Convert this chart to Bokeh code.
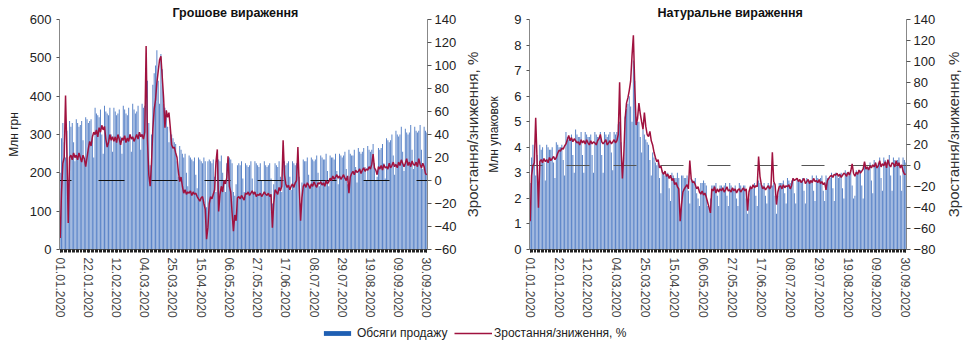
import math
from bokeh.plotting import figure
from bokeh.models import Range1d, LinearAxis, FixedTicker, Legend, LegendItem
from bokeh.layouts import row, column
from bokeh.embed import file_html
from bokeh.resources import INLINE

# ---------------- data (daily, 01.01.2020 - 30.09.2020) ----------------
tick_labels = ["01.01.2020", "22.01.2020", "12.02.2020", "04.03.2020", "25.03.2020",
               "15.04.2020", "06.05.2020", "27.05.2020", "17.06.2020", "08.07.2020",
               "29.07.2020", "19.08.2020", "09.09.2020", "30.09.2020"]

# sales in money, mln UAH
sales_uah = [
    200, 290, 330, 280, 240,
    310, 180, 335, 320, 330, 280, 230,
    340, 330, 320, 325, 335, 285, 235,
    345, 340, 330, 335, 340, 290, 240,
    370, 355, 350, 345, 365, 300, 250,
    375, 360, 355, 350, 370, 300, 255,
    370, 360, 350, 355, 365, 295, 250,
    375, 365, 355, 350, 370, 300, 255,
    380, 365, 355, 360, 375, 305, 260,
    380, 370, 375, 410, 440, 330, 220,
    300, 430, 460, 480, 520, 440, 380,
    510, 470, 380, 370, 360, 320, 280,
    320, 300, 290, 280, 275, 230, 190,
    270, 260, 250, 240, 250, 200, 165,
    245, 240, 235, 230, 240, 195, 160,
    240, 235, 230, 225, 240, 230, 110,
    230, 235, 230, 225, 235, 190, 150,
    240, 235, 230, 245, 200, 180, 150,
    225, 230, 240, 235, 225, 150, 140,
    170, 220, 225, 220, 230, 185, 150,
    225, 220, 215, 220, 230, 185, 150,
    230, 225, 220, 215, 225, 180, 145,
    230, 220, 215, 220, 225, 185, 120,
    170, 225, 220, 215, 230, 190, 150,
    240, 230, 220, 225, 230, 190, 155,
    230, 225, 220, 225, 235, 190, 120,
    175, 235, 230, 230, 240, 195, 160,
    240, 235, 230, 235, 245, 200, 165,
    245, 240, 235, 235, 250, 205, 165,
    245, 240, 240, 235, 250, 205, 170,
    250, 245, 240, 245, 255, 210, 170,
    260, 250, 245, 245, 260, 215, 175,
    265, 255, 250, 255, 265, 215, 180,
    270, 260, 255, 260, 275, 225, 180,
    190, 265, 260, 265, 275, 225, 185,
    290, 285, 280, 285, 300, 245, 195,
    310, 300, 295, 300, 320, 255, 205,
    315, 305, 300, 305, 325, 260, 210,
    320, 310, 305, 310, 325, 260, 210,
    320, 310, 305,
]

# growth vs. last year, money, %
growth_uah = [
    -50, -10, 15, 20, 74,
    25, -37, 20, 22, 18, 24, 20,
    22, 18, 24, 20, 16, 22, 19,
    12, 20, 28, 34, 30, 38, 42,
    40, 44, 38, 46, 42, 48, 44,
    47, 36, 29, 33, 40, 35, 38,
    34, 38, 33, 40, 36, 31, 37,
    35, 39, 33, 37, 34, 40, 36,
    38, 34, 37, 40, 36, 42, 38,
    40, 36, 42, 117, 35, 5, -5,
    15, 45, 62, 70, 85, 95, 105,
    108, 90, 72, 46, 61, 55, 59,
    46, 31, 28, 29, 24, 20, 8,
    -1, 3, -5, -11, -8, -12, -10,
    -11, -9, -13, -10, -12, -11, -14,
    -16, -18, -15, -14, -20, -25, -51,
    -41, -20, -14, -16, -12, -8, 16,
    27, -27, -12, -5, -10, 0, -3,
    2, 21, -5, -10, -28, -44, -30,
    -35, -15, -14, -16, -13, -15, -17,
    -11, -12, -10, -13, -11, -9, -12,
    -10, -14, -12, -13, -11, -14, -12,
    -10, -12, -13, -11, -14, -12, -41,
    -20, -8, -10, -12, -6, -9, -5,
    35, 5, -3, -6, -4, -8, -5,
    -3, -6, -2, 0, 29, -5, -35,
    -15, -5, -3, -6, -2, -4, -7,
    -3, -5, -1, -4, -6, -2, -3,
    -1, -4, -2, -5, 0, -3, -1,
    2, 0, 4, 1, 3, 5, 2,
    4, 1, 3, 5, 2, 0, 4,
    -11, 3, 6, 8, 5, 9, 7,
    8, 10, 6, 9, 11, 8, 10,
    9, 12, 10, 14, 23, 11, 9,
    5, 12, 10, 13, 9, 14, 11,
    12, 10, 15, 11, 13, 16, 12,
    14, 11, 16, 13, 18, 15, 12,
    15, 19, 13, 16, 12, 17, 14,
    13, 16, 12, 19, 14, 11, 15,
    12, 6, 5,
]

# sales in units, mln packs
sales_packs = [
    2.6, 3.6, 4.1, 3.5, 2.9,
    3.7, 2.3, 4.1, 3.9, 4.0, 3.4, 2.7,
    4.1, 4.0, 3.9, 3.9, 4.0, 3.4, 2.8,
    4.2, 4.1, 4.0, 4.0, 4.1, 3.5, 2.9,
    4.6, 4.4, 4.3, 4.3, 4.5, 3.7, 3.0,
    4.7, 4.5, 4.4, 4.4, 4.6, 3.7, 3.0,
    4.6, 4.5, 4.4, 4.4, 4.5, 3.7, 3.0,
    4.6, 4.5, 4.4, 4.4, 4.6, 3.7, 3.0,
    4.6, 4.5, 4.4, 4.5, 4.6, 3.8, 3.1,
    4.6, 4.5, 4.6, 4.9, 5.0, 4.2, 2.8,
    3.6, 5.2, 5.5, 5.7, 6.0, 5.6, 5.0,
    7.4, 6.6, 5.2, 5.0, 5.0, 4.4, 3.8,
    4.7, 4.5, 4.3, 4.2, 4.1, 3.5, 2.9,
    3.8, 3.6, 3.4, 3.3, 3.4, 2.8, 2.2,
    3.1, 3.0, 2.9, 2.9, 3.0, 2.4, 1.9,
    3.0, 2.9, 2.8, 2.8, 3.0, 2.8, 1.2,
    2.9, 2.9, 2.8, 2.8, 2.9, 2.3, 1.8,
    2.8, 2.7, 2.7, 2.8, 2.2, 2.0, 1.7,
    2.6, 2.6, 2.7, 2.6, 2.5, 1.7, 1.6,
    2.0, 2.5, 2.5, 2.5, 2.6, 2.1, 1.7,
    2.5, 2.5, 2.4, 2.5, 2.6, 2.1, 1.7,
    2.6, 2.5, 2.4, 2.4, 2.5, 2.0, 1.7,
    2.6, 2.5, 2.4, 2.5, 2.5, 2.0, 1.4,
    2.0, 2.5, 2.4, 2.4, 2.6, 2.1, 1.7,
    2.7, 2.6, 2.5, 2.5, 2.6, 2.1, 1.8,
    2.6, 2.5, 2.5, 2.5, 2.6, 2.1, 1.4,
    2.1, 2.6, 2.6, 2.6, 2.7, 2.2, 1.8,
    2.8, 2.7, 2.6, 2.7, 2.8, 2.2, 1.8,
    2.8, 2.7, 2.7, 2.7, 2.8, 2.3, 1.8,
    2.8, 2.7, 2.7, 2.7, 2.9, 2.3, 1.9,
    2.9, 2.8, 2.7, 2.8, 2.9, 2.3, 1.9,
    2.9, 2.8, 2.8, 2.8, 3.0, 2.4, 1.9,
    3.0, 2.9, 2.8, 2.9, 3.0, 2.4, 2.0,
    3.1, 3.0, 2.9, 2.9, 3.1, 2.5, 2.0,
    2.1, 3.1, 3.0, 3.0, 3.1, 2.5, 2.0,
    3.3, 3.2, 3.2, 3.2, 3.4, 2.7, 2.2,
    3.5, 3.4, 3.3, 3.4, 3.6, 2.8, 2.3,
    3.6, 3.5, 3.4, 3.4, 3.7, 2.9, 2.3,
    3.6, 3.5, 3.4, 3.5, 3.6, 2.9, 2.3,
    3.6, 3.5, 3.4,
]

# growth vs. last year, units, %
growth_packs = [
    -53, -9, 0, 3, 46,
    5, -40, 4, 6, 3, 7, 4,
    6, 3, 8, 5, 7, 9, 6,
    8, 12, 15, 14, 17, 16, 19,
    21, 25, 29, 24, 27, 23, 26,
    24, 22, 23, 20, 25, 22, 24,
    21, 25, 22, 20, 24, 21, 23,
    22, 20, 24, 26, 30, 23, 21,
    23, 25, 20, 22, 24, 21, 23,
    25, 22, 24, 30, 80, 20, -12,
    10, 45, 60, 65, 72, 81, 105,
    125, 76, 39, 45, 60, 50, 42,
    35, 51, 38, 30, 28, 33, 24,
    20, 13, 8, 4, 6, -2, 0,
    -6, -8, -5, -10, -8, -12, -9,
    -14, -12, -18, -16, -20, -22, -53,
    -37, -25, -22, -20, -18, -22, 5,
    -12, -16, -15, -18, -22, -20, -25,
    -27, -24, -28, -26, -30, -35, -40,
    -45, -22, -24, -20, -26, -22, -25,
    -22, -24, -21, -25, -23, -20, -24,
    -23, -25, -21, -24, -22, -26, -23,
    -22, -25, -23, -21, -24, -22, -43,
    -25, -20, -22, -18, -21, -19, -20,
    9, -10, -18, -22, -20, -23, -21,
    -19, -22, -20, 13, -15, -18, -37,
    -25, -20, -19, -22, -18, -21, -19,
    -20, -18, -22, -19, -12, -14, -13,
    -12, -15, -13, -16, -14, -12, -17,
    -15, -13, -17, -14, -16, -12, -15,
    -14, -16, -13, -17, -15, -18, -16,
    -23, -14, -12, -10, -9, -11, -8,
    -9, -7, -10, -8, -11, -9, -7,
    -8, -10, -6, -9, -5, 2, -7,
    -10, -6, -8, -4, -7, -5, -3,
    4, -3, -1, -4, 0, -2, 1,
    -1, 3, -2, 0, 5, -1, 2,
    0, 4, -2, 6, 1, -1, 3,
    2, -1, 5, 0, 3, -2, 1,
    -5, -8, -8,
]

days = list(range(len(sales_uah)))
tick_pos = [days[i] for i in range(0, len(days), 21)]

FONT = "Liberation Sans"
BAR = "#5d86c9"
LINE = "#a0123f"
TXT = "#222222"
PCT_LABEL = "Зростання/зниження, %"
H = 322


def make_panel(title, bars, growth, ymax, yticks, plo, phi, pticks, ylabel,
               width, bl, br, title_off, dash_color, dash, dash_off, lstand):
    p = figure(width=width, height=H, x_range=Range1d(-0.5, len(days) - 0.5),
               y_range=Range1d(0, ymax), output_backend="svg", toolbar_location=None,
               min_border_left=bl, min_border_right=br, min_border_top=16,
               min_border_bottom=73)
    p.extra_y_ranges = {"pct": Range1d(plo, phi)}
    p.vbar(x=days, top=bars, width=0.75, fill_color=BAR, line_color=None)
    p.hspan(y=[0], y_range_name="pct", line_color=dash_color, line_width=1,
            line_dash=dash, line_dash_offset=dash_off)
    p.line(days, growth, y_range_name="pct", line_color=LINE, line_width=1.5)

    p.title.text = title
    p.title.text_font = FONT
    p.title.text_font_size = "12.5px"
    p.title.text_font_style = "bold"
    p.title.text_color = "#111111"
    p.title.align = "left"
    p.title.offset = title_off
    p.title.standoff = 0

    p.grid.visible = False
    p.outline_line_color = None

    xa = p.xaxis[0]
    xa.ticker = FixedTicker(ticks=tick_pos, minor_ticks=days)
    xa.major_label_overrides = {t: lab for t, lab in zip(tick_pos, tick_labels)}
    xa.major_label_orientation = "vertical"
    xa.major_label_text_font = FONT
    xa.major_label_text_font_size = "12px"
    xa.major_label_text_color = "#444444"
    xa.axis_line_color = "#555555"
    xa.major_tick_out = 3
    xa.major_tick_in = 0
    xa.minor_tick_out = 3
    xa.minor_tick_in = 0
    xa.major_tick_line_color = "#222222"
    xa.minor_tick_line_color = "#222222"
    xa.major_label_standoff = 5

    ya = p.yaxis[0]
    ya.ticker = FixedTicker(ticks=yticks)
    ya.axis_label = ylabel
    ya.axis_label_text_font = FONT
    ya.axis_label_text_font_size = "12px"
    ya.axis_label_text_font_style = "normal"
    ya.axis_label_text_color = TXT
    ya.axis_label_standoff = lstand
    ya.major_label_text_font = FONT
    ya.major_label_text_font_size = "13px"
    ya.major_label_text_color = TXT
    ya.axis_line_color = "#888888"
    ya.major_tick_out = 3
    ya.major_tick_in = 0
    ya.major_tick_line_color = "#555555"
    ya.minor_tick_line_color = None

    ra = LinearAxis(y_range_name="pct", ticker=FixedTicker(ticks=pticks))
    ra.major_label_text_font = FONT
    ra.major_label_text_font_size = "13px"
    ra.major_label_text_color = TXT
    ra.major_label_standoff = 3
    ra.axis_line_color = "#888888"
    ra.major_tick_out = 4
    ra.major_tick_in = 0
    ra.major_tick_line_color = "#555555"
    ra.minor_tick_line_color = None
    p.add_layout(ra, "right")
    return p


def pct_title_strip(width, border_left):
    # narrow strip whose only content is the right-axis title (reads bottom-to-top)
    s = figure(width=width, height=H, x_range=Range1d(0, 1), y_range=Range1d(0, 1),
               output_backend="svg", toolbar_location=None,
               x_axis_location=None, y_axis_location=None,
               min_border_left=border_left, min_border_right=0,
               min_border_top=19, min_border_bottom=70)
    s.grid.visible = False
    s.outline_line_color = None
    ax = LinearAxis(ticker=FixedTicker(ticks=[]), axis_label=PCT_LABEL)
    ax.axis_line_color = None
    ax.major_tick_line_color = None
    ax.minor_tick_line_color = None
    ax.axis_label_standoff = 0
    ax.axis_label_text_font = FONT
    ax.axis_label_text_font_size = "15px"
    ax.axis_label_text_font_style = "normal"
    ax.axis_label_text_color = "#333333"
    s.add_layout(ax, "left")
    return s


p1 = make_panel("Грошове вираження", sales_uah, growth_uah, 600, list(range(0, 601, 100)),
                -60, 140, list(range(-60, 141, 20)), "Млн грн",
                460, 59, 33, 113, "#111111", "26 27", 14, 6)
s1 = pct_title_strip(24, 20)
p2 = make_panel("Натуральне вираження", sales_packs, growth_packs, 9, list(range(0, 10)),
                -80, 140, list(range(-80, 141, 20)), "Млн упаковок",
                457, 45, 35, 128, "#555555", "23 24", 10, 10)
s2 = pct_title_strip(28, 20)

# legend strip
p3 = figure(width=969, height=21, x_range=Range1d(0, 969), y_range=Range1d(0, 21),
            output_backend="svg", toolbar_location=None, min_border=0)
p3.axis.visible = False
p3.grid.visible = False
p3.outline_line_color = None
nan = float("nan")
r_bar = p3.vbar(x=[nan], top=[nan], width=1, fill_color="#1f5fb3", line_color=None)
r_line = p3.line(x=[nan], y=[nan], line_color=LINE, line_width=1.5)

common = dict(padding=0, margin=0, spacing=0, border_line_color=None,
              background_fill_alpha=0, label_text_font=FONT, label_text_font_size="12px",
              label_text_color=TXT, label_height=14)
leg1 = Legend(items=[LegendItem(label="Обсяги продажу", renderers=[r_bar])],
              location=(320, 3), glyph_width=34, glyph_height=6, label_standoff=3, **common)
leg2 = Legend(items=[LegendItem(label="Зростання/зниження, %", renderers=[r_line])],
              location=(454, 3), glyph_width=38, glyph_height=6, label_standoff=2, **common)
p3.add_layout(leg1)
p3.add_layout(leg2)

layout = column(row(p1, s1, p2, s2), p3)
open("out.html", "w").write(file_html(layout, INLINE))
